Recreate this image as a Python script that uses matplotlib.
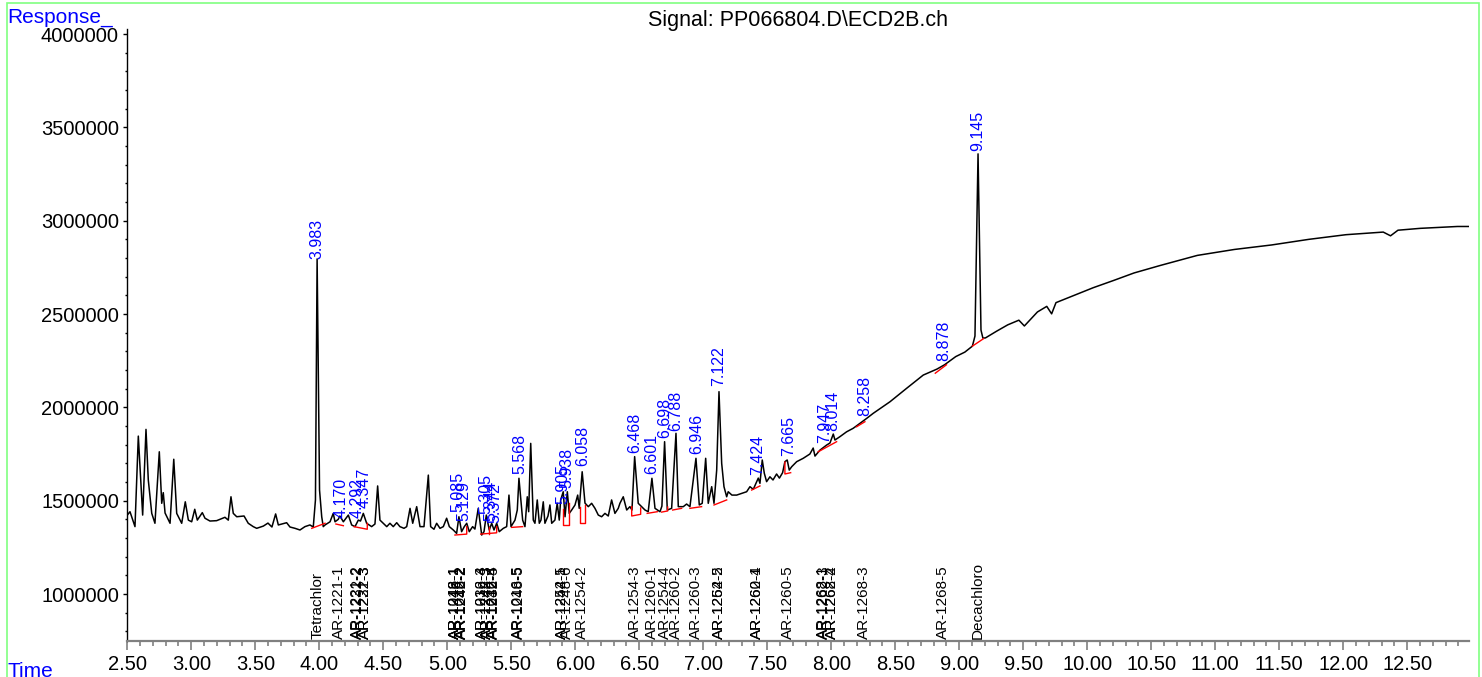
import numpy as np
import matplotlib.pyplot as plt
from matplotlib.ticker import MultipleLocator, FuncFormatter
from matplotlib.patches import Rectangle

plt.rcParams['font.family'] = ['Liberation Sans', 'DejaVu Sans']

# chromatogram trace (time in min, response in thousands)
trace_time = [
    2.500, 2.521, 2.560, 2.586, 2.620, 2.646, 2.664, 2.691, 2.716, 2.750,
    2.769, 2.781, 2.795, 2.834, 2.863, 2.886, 2.925, 2.953, 2.977, 3.003,
    3.027, 3.047, 3.086, 3.107, 3.146, 3.198, 3.263, 3.289, 3.310, 3.328,
    3.355, 3.412, 3.445, 3.484, 3.511, 3.563, 3.599, 3.630, 3.659, 3.680,
    3.745, 3.771, 3.810, 3.849, 3.888, 3.927, 3.953, 3.970, 3.983, 4.002,
    4.019, 4.031, 4.045, 4.084, 4.109, 4.123, 4.148, 4.161, 4.188, 4.227,
    4.253, 4.279, 4.305, 4.322, 4.344, 4.370, 4.409, 4.435, 4.456, 4.474,
    4.500, 4.527, 4.552, 4.578, 4.605, 4.630, 4.662, 4.683, 4.709, 4.730,
    4.761, 4.787, 4.818, 4.852, 4.870, 4.896, 4.917, 4.943, 4.969, 4.995,
    5.016, 5.047, 5.073, 5.091, 5.112, 5.133, 5.152, 5.172, 5.198, 5.216,
    5.242, 5.256, 5.269, 5.287, 5.305, 5.328, 5.347, 5.365, 5.386, 5.406,
    5.438, 5.464, 5.482, 5.498, 5.529, 5.547, 5.560, 5.589, 5.607, 5.625,
    5.636, 5.652, 5.672, 5.685, 5.703, 5.719, 5.732, 5.750, 5.763, 5.787,
    5.802, 5.816, 5.841, 5.859, 5.875, 5.886, 5.906, 5.920, 5.938, 5.953,
    5.972, 5.998, 6.019, 6.031, 6.054, 6.076, 6.102, 6.128, 6.154, 6.180,
    6.206, 6.232, 6.258, 6.284, 6.310, 6.336, 6.349, 6.375, 6.402, 6.427,
    6.443, 6.464, 6.492, 6.519, 6.545, 6.570, 6.599, 6.623, 6.662, 6.677,
    6.698, 6.719, 6.753, 6.787, 6.805, 6.844, 6.870, 6.896, 6.943, 6.969,
    6.992, 7.019, 7.039, 7.066, 7.084, 7.105, 7.123, 7.144, 7.162, 7.183,
    7.195, 7.224, 7.261, 7.300, 7.339, 7.365, 7.391, 7.430, 7.443, 7.461,
    7.477, 7.495, 7.521, 7.545, 7.573, 7.595, 7.620, 7.638, 7.656, 7.672,
    7.691, 7.730, 7.781, 7.833, 7.859, 7.873, 7.912, 7.964, 7.990, 8.016,
    8.029, 8.068, 8.120, 8.172, 8.224, 8.277, 8.328, 8.459, 8.589, 8.719,
    8.826, 8.885, 8.973, 9.044, 9.103, 9.123, 9.147, 9.170, 9.185, 9.205,
    9.292, 9.379, 9.466, 9.509, 9.611, 9.684, 9.722, 9.756, 9.902, 10.047,
    10.207, 10.366, 10.570, 10.860, 11.151, 11.441, 11.731, 12.022, 12.313, 12.370,
    12.428, 12.602, 12.893, 12.994,
]
trace_resp_k = [
    1423, 1441, 1361, 1846, 1423, 1882, 1611, 1432, 1379, 1762,
    1486, 1543, 1434, 1379, 1722, 1432, 1379, 1494, 1396, 1387,
    1454, 1396, 1436, 1406, 1391, 1393, 1411, 1396, 1521, 1432,
    1414, 1418, 1379, 1361, 1352, 1364, 1380, 1359, 1429, 1370,
    1382, 1359, 1352, 1343, 1361, 1370, 1359, 1504, 2795, 1557,
    1414, 1361, 1370, 1387, 1432, 1387, 1400, 1418, 1387, 1423,
    1370, 1361, 1396, 1391, 1432, 1379, 1361, 1375, 1579, 1396,
    1379, 1361, 1379, 1361, 1382, 1361, 1352, 1361, 1459, 1379,
    1468, 1361, 1361, 1637, 1361, 1347, 1379, 1352, 1361, 1406,
    1361, 1343, 1325, 1414, 1334, 1361, 1379, 1334, 1361, 1348,
    1459, 1386, 1316, 1334, 1423, 1343, 1379, 1343, 1379, 1334,
    1352, 1361, 1530, 1361, 1396, 1450, 1620, 1396, 1361, 1521,
    1441, 1807, 1396, 1379, 1504, 1379, 1396, 1494, 1379, 1418,
    1477, 1379, 1396, 1486, 1396, 1504, 1548, 1414, 1548, 1432,
    1450, 1477, 1530, 1459, 1655, 1487, 1468, 1486, 1459, 1423,
    1414, 1432, 1418, 1504, 1432, 1459, 1486, 1521, 1450, 1468,
    1450, 1736, 1486, 1468, 1450, 1441, 1620, 1459, 1441, 1471,
    1816, 1450, 1459, 1861, 1468, 1468, 1482, 1468, 1727, 1477,
    1486, 1727, 1486, 1575, 1486, 1664, 2084, 1700, 1575, 1521,
    1548, 1530, 1530, 1539, 1548, 1575, 1561, 1621, 1593, 1718,
    1647, 1602, 1628, 1611, 1643, 1621, 1650, 1709, 1718, 1664,
    1682, 1709, 1727, 1750, 1782, 1739, 1771, 1798, 1809, 1857,
    1825, 1843, 1869, 1888, 1914, 1941, 1968, 2030, 2102, 2173,
    2205, 2228, 2272, 2296, 2328, 2382, 3358, 2414, 2371, 2372,
    2408, 2442, 2467, 2436, 2511, 2541, 2501, 2561, 2601, 2641,
    2680, 2720, 2760, 2814, 2846, 2870, 2900, 2925, 2939, 2919,
    2949, 2959, 2969, 2969,
]

# integration baselines (red), one polyline per peak group
base_time = [
    [3.941, 4.045], [4.130, 4.188], [4.271, 4.375, 4.375],
    [5.060, 5.152, 5.152], [5.261, 5.386, 5.386], [5.328, 5.328],
    [5.503, 5.589], [5.902, 5.902, 5.953, 5.953], [6.037, 6.037, 6.076, 6.076],
    [6.441, 6.441, 6.511, 6.511], [6.562, 6.641], [6.675, 6.722, 6.722],
    [6.761, 6.831], [6.896, 6.987], [7.084, 7.183], [7.378, 7.443],
    [7.638, 7.638, 7.683], [7.898, 8.042], [8.198, 8.263], [8.813, 8.900],
    [9.103, 9.190],
]
base_resp_k = [
    [1352, 1379], [1375, 1366], [1361, 1347, 1379],
    [1316, 1321, 1361], [1321, 1328, 1361], [1324, 1361],
    [1357, 1361], [1454, 1370, 1370, 1486], [1466, 1382, 1382, 1477],
    [1468, 1418, 1427, 1461], [1432, 1441], [1439, 1445, 1466],
    [1450, 1459], [1459, 1468], [1477, 1504], [1557, 1579],
    [1707, 1643, 1650], [1762, 1816], [1896, 1923], [2183, 2228],
    [2328, 2368],
]

# retention time labels (blue) and the response at which each sits
peak_labels = ["3.983", "4.170", "4.292", "4.347", "5.085", "5.129", "5.305",
               "5.344", "5.372", "5.568", "5.905", "5.938", "6.058", "6.468",
               "6.601", "6.698", "6.788", "6.946", "7.122", "7.424", "7.665",
               "7.947", "8.014", "8.258", "8.878", "9.145"]
peak_top_k = [2784, 1396, 1396, 1450, 1429, 1380, 1418, 1380, 1370, 1632,
              1471, 1557, 1675, 1745, 1632, 1825, 1862, 1739, 2104, 1627,
              1729, 1798, 1862, 1943, 2237, 3362]

# compound names along the time axis
compound_names = ["Tetrachlor", "AR-1221-1", "AR-1221-2", "AR-1232-2",
                  "AR-1221-3", "AR-1232-3",
                  "AR-1016-1", "AR-1242-1", "AR-1248-1",
                  "AR-1016-2", "AR-1242-2", "AR-1248-2",
                  "AR-1016-3", "AR-1232-4", "AR-1242-3", "AR-1248-3",
                  "AR-1016-4", "AR-1242-4", "AR-1232-5",
                  "AR-1016-5", "AR-1248-5",
                  "AR-1242-5", "AR-1254-1", "AR-1248-6",
                  "AR-1254-2", "AR-1254-3", "AR-1260-1", "AR-1254-4",
                  "AR-1260-2", "AR-1260-3", "AR-1254-5", "AR-1262-2",
                  "AR-1260-4", "AR-1262-1", "AR-1260-5",
                  "AR-1268-1", "AR-1262-3", "AR-1268-2", "AR-1262-4",
                  "AR-1268-3", "AR-1268-5", "Decachloro"]
compound_times = [3.984, 4.156, 4.297, 4.300,
                  4.355, 4.358,
                  5.058, 5.060, 5.062,
                  5.110, 5.112, 5.114,
                  5.269, 5.271, 5.312, 5.314,
                  5.357, 5.359, 5.361,
                  5.555, 5.557,
                  5.894, 5.896, 5.933,
                  6.050, 6.468, 6.601, 6.698,
                  6.788, 6.946, 7.122, 7.124,
                  7.417, 7.419, 7.664,
                  7.938, 7.940, 8.003, 8.005,
                  8.255, 8.873, 9.145]

trace_resp = np.array(trace_resp_k) * 1000

fig = plt.figure(figsize=(14.82, 6.77), dpi=100)
ax = fig.add_axes([0.0859, 0.0527, 0.9055, 0.9044])

ax.plot(trace_time, trace_resp, color='black', lw=1.1, zorder=3)
for bt, br in zip(base_time, base_resp_k):
    ax.plot(bt, np.array(br) * 1000, color='red', lw=1, zorder=4)

for lab, top in zip(peak_labels, peak_top_k):
    ax.annotate(lab, (float(lab), top * 1000), xytext=(0, 1.5),
                textcoords='offset points', rotation=90, ha='center',
                va='bottom', color='#0000ff', fontsize=11.5)

for name, t in zip(compound_names, compound_times):
    ax.text(t, 0.004, name, transform=ax.get_xaxis_transform(), rotation=90,
            ha='center', va='bottom', color='black', fontsize=11)

ax.set_xlim(2.5, 12.985)
ax.set_ylim(746600, 4026700)

ax.xaxis.set_major_locator(MultipleLocator(0.5))
ax.xaxis.set_minor_locator(MultipleLocator(0.1))
ax.xaxis.set_major_formatter(FuncFormatter(lambda v, p: f"{v:.2f}"))
ax.yaxis.set_major_locator(MultipleLocator(500000))
ax.yaxis.set_minor_locator(MultipleLocator(100000))
ax.yaxis.set_major_formatter(FuncFormatter(lambda v, p: f"{v:.0f}"))

ax.spines['top'].set_visible(False)
ax.spines['right'].set_visible(False)
ax.spines['bottom'].set_color('#808080')
ax.spines['bottom'].set_linewidth(1.6)
ax.spines['left'].set_color('black')
ax.spines['left'].set_linewidth(1.0)

ax.tick_params(axis='x', which='major', direction='out', length=6.5, width=1.2,
               color='#808080', labelsize=14.5, pad=3)
ax.tick_params(axis='x', which='minor', direction='out', length=3.4, width=1.2,
               color='#808080')
ax.tick_params(axis='y', which='major', direction='out', length=3, width=1,
               color='black', labelsize=14.5, pad=3)
ax.tick_params(axis='y', which='minor', direction='out', length=1.7, width=1,
               color='black')

fig.text(0.5385, 0.9623, "Signal: PP066804.D\\ECD2B.ch", ha='center',
         va='baseline', fontsize=15.5, color='black')
fig.text(0.0049, 0.9665, "Response_", ha='left', va='baseline',
         fontsize=15, color='#0000ff')
fig.text(0.0049, -0.0007, "Time", ha='left', va='baseline',
         fontsize=15, color='#0000ff')

# light green frame round the whole picture
fig.patches.append(Rectangle((0.0045, -0.01), 0.9937, 1.006, fill=False,
                             edgecolor='#80ff80', lw=1.2,
                             transform=fig.transFigure, figure=fig))

fig.savefig('out.png', dpi=100)
